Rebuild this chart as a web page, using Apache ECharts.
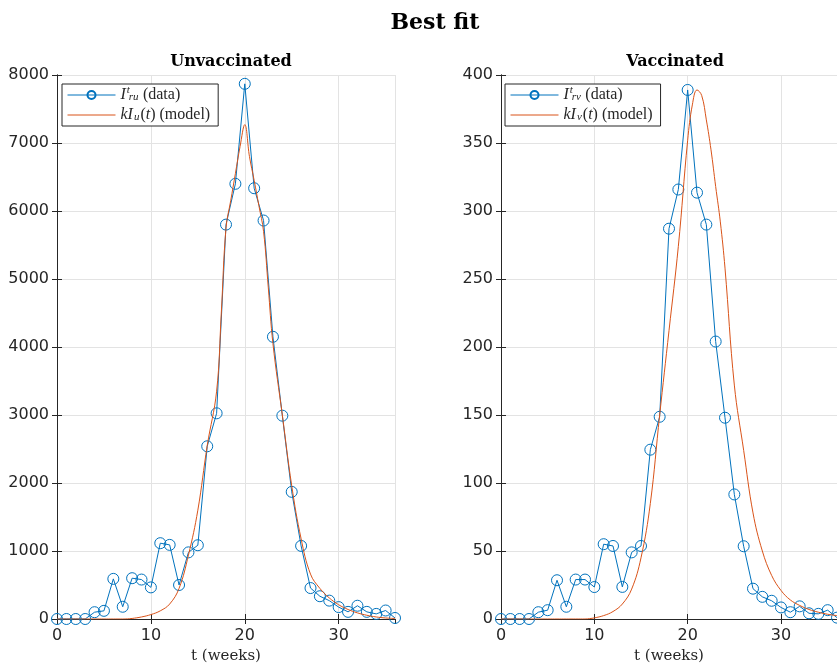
<!DOCTYPE html>
<html>
<head>
<meta charset="utf-8">
<script src="https://cdn.jsdelivr.net/npm/echarts@6/dist/echarts.min.js"></script>
<style>
html, body { margin: 0; padding: 0; background: #fff; }
#charts { width: 837px; height: 669px; }
</style>
</head>
<body>
<div id="charts"></div>
<script>
// weeks
var weeks = [0, 1, 2, 3, 4, 5, 6, 7, 8, 9, 10, 11, 12, 13, 14, 15, 16, 17, 18, 19, 20,
    21, 22, 23, 24, 25, 26, 27, 28, 29, 30, 31, 32, 33, 34, 35, 36];
// observed weekly cases
var dataU = [0, 0, 0, 0, 100, 120, 590, 180, 600, 580, 465, 1115, 1090, 500, 980, 1085, 2540, 3025, 5800, 6400, 7870,
    6335, 5860, 4150, 2990, 1870, 1075, 455, 335, 270, 175, 105, 195, 105, 75, 125, 15];
var dataV = [0, 0, 0, 0, 5, 6.5, 28.5, 9, 29, 29, 23.5, 55, 53.7, 23.6, 49, 53.7, 124.5, 148.7, 287, 315.8, 389,
    313.5, 290, 204, 148, 91.6, 53.5, 22.3, 16.3, 13.4, 8.5, 5, 9.3, 4.2, 3.8, 6.5, 1];
// model curves
var modelTU = [0, 1, 2, 3, 4, 5, 6, 7, 7.5, 8, 9, 10, 11, 12, 13, 14, 15, 16, 17, 17.5, 18, 18.5, 19, 19.5, 20,
    20.5, 21, 21.5, 22, 22.5, 23, 24, 25, 26, 27, 28, 29, 30, 31, 32, 33, 34, 35, 36];
var modelU = [0, 0, 0, 0, 0, 0, 0, 0, 2, 8, 30, 65, 120, 220, 450, 940, 1600, 2550, 3350, 4500, 5750, 6150, 6550, 6950, 7270,
    6800, 6450, 6080, 5700, 4880, 4050, 3000, 1960, 1180, 660, 450, 310, 210, 140, 90, 55, 30, 15, 8];
var modelTV = [0, 1, 2, 3, 4, 5, 6, 7, 8, 9, 9.5, 10, 11, 12, 13, 14, 15, 16, 17, 18, 19, 20, 20.5, 21,
    21.5, 22, 22.5, 23, 23.5, 24, 25, 26, 27, 28, 29, 30, 31, 32, 33, 34, 35, 36];
var modelV = [0, 0, 0, 0, 0, 0, 0, 0, 0, 0, 0.3, 0.8, 2.5, 5.5, 11, 22, 45, 85, 150, 212, 274, 352, 378, 389,
    385, 367, 345, 318, 292, 258, 172, 124, 78, 50, 32, 21, 14, 10, 7, 5, 3.5, 2.5];

var xTicks = { min: 0, max: 36, interval: 10 };
var yTicksU = { min: 0, max: 8000, interval: 1000 };
var yTicksV = { min: 0, max: 400, interval: 50 };

var blue = '#0072BD';
var orange = '#D95319';
var ink = '#262626';
var serif = 'DejaVu Serif';
var mathFont = 'Liberation Serif';

function pairs(xs, ys) {
    return xs.map(function (x, i) { return [x, ys[i]]; });
}
function plain(v) { return String(v); } // no thousands separator

// bottom/left axes with labels, top/right axes only for the box ticks
function xAxes(g, name) {
    var common = {
        type: 'value', gridIndex: g, min: xTicks.min, max: xTicks.max, interval: xTicks.interval,
        axisLine: { show: true, lineStyle: { color: ink, width: 1 } },
        axisTick: { show: true, inside: true, length: 5, lineStyle: { color: ink } }
    };
    return [
        Object.assign({}, common, {
            position: 'bottom',
            name: name, nameLocation: 'middle', nameGap: 30,
            nameTextStyle: { fontFamily: serif, fontSize: 15, color: ink },
            axisLabel: { fontFamily: 'DejaVu Sans', fontSize: 16, color: ink, margin: 9, showMaxLabel: false, formatter: plain },
            splitLine: { show: true, lineStyle: { color: '#e3e3e3', width: 1 } }
        }),
        Object.assign({}, common, {
            position: 'top', axisLabel: { show: false }, splitLine: { show: false }
        })
    ];
}
function yAxes(g, t) {
    var common = {
        type: 'value', gridIndex: g, min: t.min, max: t.max, interval: t.interval,
        axisLine: { show: true, lineStyle: { color: ink, width: 1 } },
        axisTick: { show: true, inside: true, length: 5, lineStyle: { color: ink } }
    };
    return [
        Object.assign({}, common, {
            position: 'left',
            axisLabel: { fontFamily: 'DejaVu Sans', fontSize: 16, color: ink, margin: 8, formatter: plain },
            splitLine: { show: true, lineStyle: { color: '#e3e3e3', width: 1 } }
        }),
        Object.assign({}, common, {
            position: 'right', axisLabel: { show: false }, splitLine: { show: false }
        })
    ];
}

var legendNames = {
    dataU: '{it|I}{sup|t}{sub|ru} {rm|(data)}',
    modelU: '{it|kI}{sub|u}{rm|(}{it|t}{rm|) (model)}',
    dataV: '{it|I}{sup|t}{sub|rv} {rm|(data)}',
    modelV: '{it|kI}{sub|v}{rm|(}{it|t}{rm|) (model)}'
};
var rich = {
    it: { fontFamily: mathFont, fontStyle: 'italic', fontSize: 16, color: ink, lineHeight: 20 },
    rm: { fontFamily: mathFont, fontSize: 16, color: ink, lineHeight: 20 },
    sup: { fontFamily: mathFont, fontStyle: 'italic', fontSize: 11, color: ink, lineHeight: 20, verticalAlign: 'top', width: 1, padding: [0, 0, 0, 1] },
    sub: { fontFamily: mathFont, fontStyle: 'italic', fontSize: 11, color: ink, lineHeight: 20, verticalAlign: 'bottom', padding: [0, 1, 2, 1] }
};
function legend(left, names) {
    return {
        data: [
            { name: names[0] },
            { name: names[1], itemStyle: { opacity: 0 } }
        ],
        orient: 'vertical', left: left, top: 84,
        itemWidth: 48, itemHeight: 10, itemGap: 2, padding: [1, 8, 1, 5],
        backgroundColor: '#fff', borderColor: ink, borderWidth: 1, borderRadius: 0,
        selectedMode: false,
        lineStyle: { width: 1 },
        formatter: function (n) { return legendNames[n]; },
        textStyle: { rich: rich }
    };
}

function dataSeries(name, g, ys) {
    return {
        name: name, type: 'line', xAxisIndex: g * 2, yAxisIndex: g * 2,
        data: pairs(weeks, ys),
        symbol: 'circle', symbolSize: 11,
        itemStyle: { color: 'rgba(0,0,0,0)', borderColor: blue, borderWidth: 1 },
        lineStyle: { color: blue, width: 1 },
        emphasis: { disabled: true }, animation: false, z: 2
    };
}
function modelSeries(name, g, xs, ys) {
    return {
        name: name, type: 'line', xAxisIndex: g * 2, yAxisIndex: g * 2,
        data: pairs(xs, ys), showSymbol: false, symbol: 'none',
        smooth: 0.4,
        itemStyle: { color: orange },
        lineStyle: { color: orange, width: 1 },
        emphasis: { disabled: true }, animation: false, z: 3
    };
}

var myChart = echarts.init(document.getElementById('charts'), null, { renderer: 'canvas' });
var option = {
    backgroundColor: '#fff',
    animation: false,
    title: [
        { text: 'Best fit', left: 430, textAlign: 'center', top: 7,
          textStyle: { fontFamily: serif, fontWeight: 'bold', fontSize: 22, color: '#000' } },
        { text: 'Unvaccinated', left: 226, textAlign: 'center', top: 49,
          textStyle: { fontFamily: serif, fontWeight: 'bold', fontSize: 16, color: '#000' } },
        { text: 'Vaccinated', left: 670, textAlign: 'center', top: 49,
          textStyle: { fontFamily: serif, fontWeight: 'bold', fontSize: 16, color: '#000' } }
    ],
    grid: [
        { left: 57, top: 75, width: 338, height: 546 },
        { left: 501, top: 75, width: 338, height: 546 }
    ],
    xAxis: xAxes(0, 't (weeks)').concat(xAxes(1, 't (weeks)')),
    yAxis: yAxes(0, yTicksU).concat(yAxes(1, yTicksV)),
    legend: [legend(62, ['dataU', 'modelU']), legend(505, ['dataV', 'modelV'])],
    series: [
        dataSeries('dataU', 0, dataU),
        modelSeries('modelU', 0, modelTU, modelU),
        dataSeries('dataV', 1, dataV),
        modelSeries('modelV', 1, modelTV, modelV)
    ]
};
myChart.setOption(option);
</script>
</body>
</html>
